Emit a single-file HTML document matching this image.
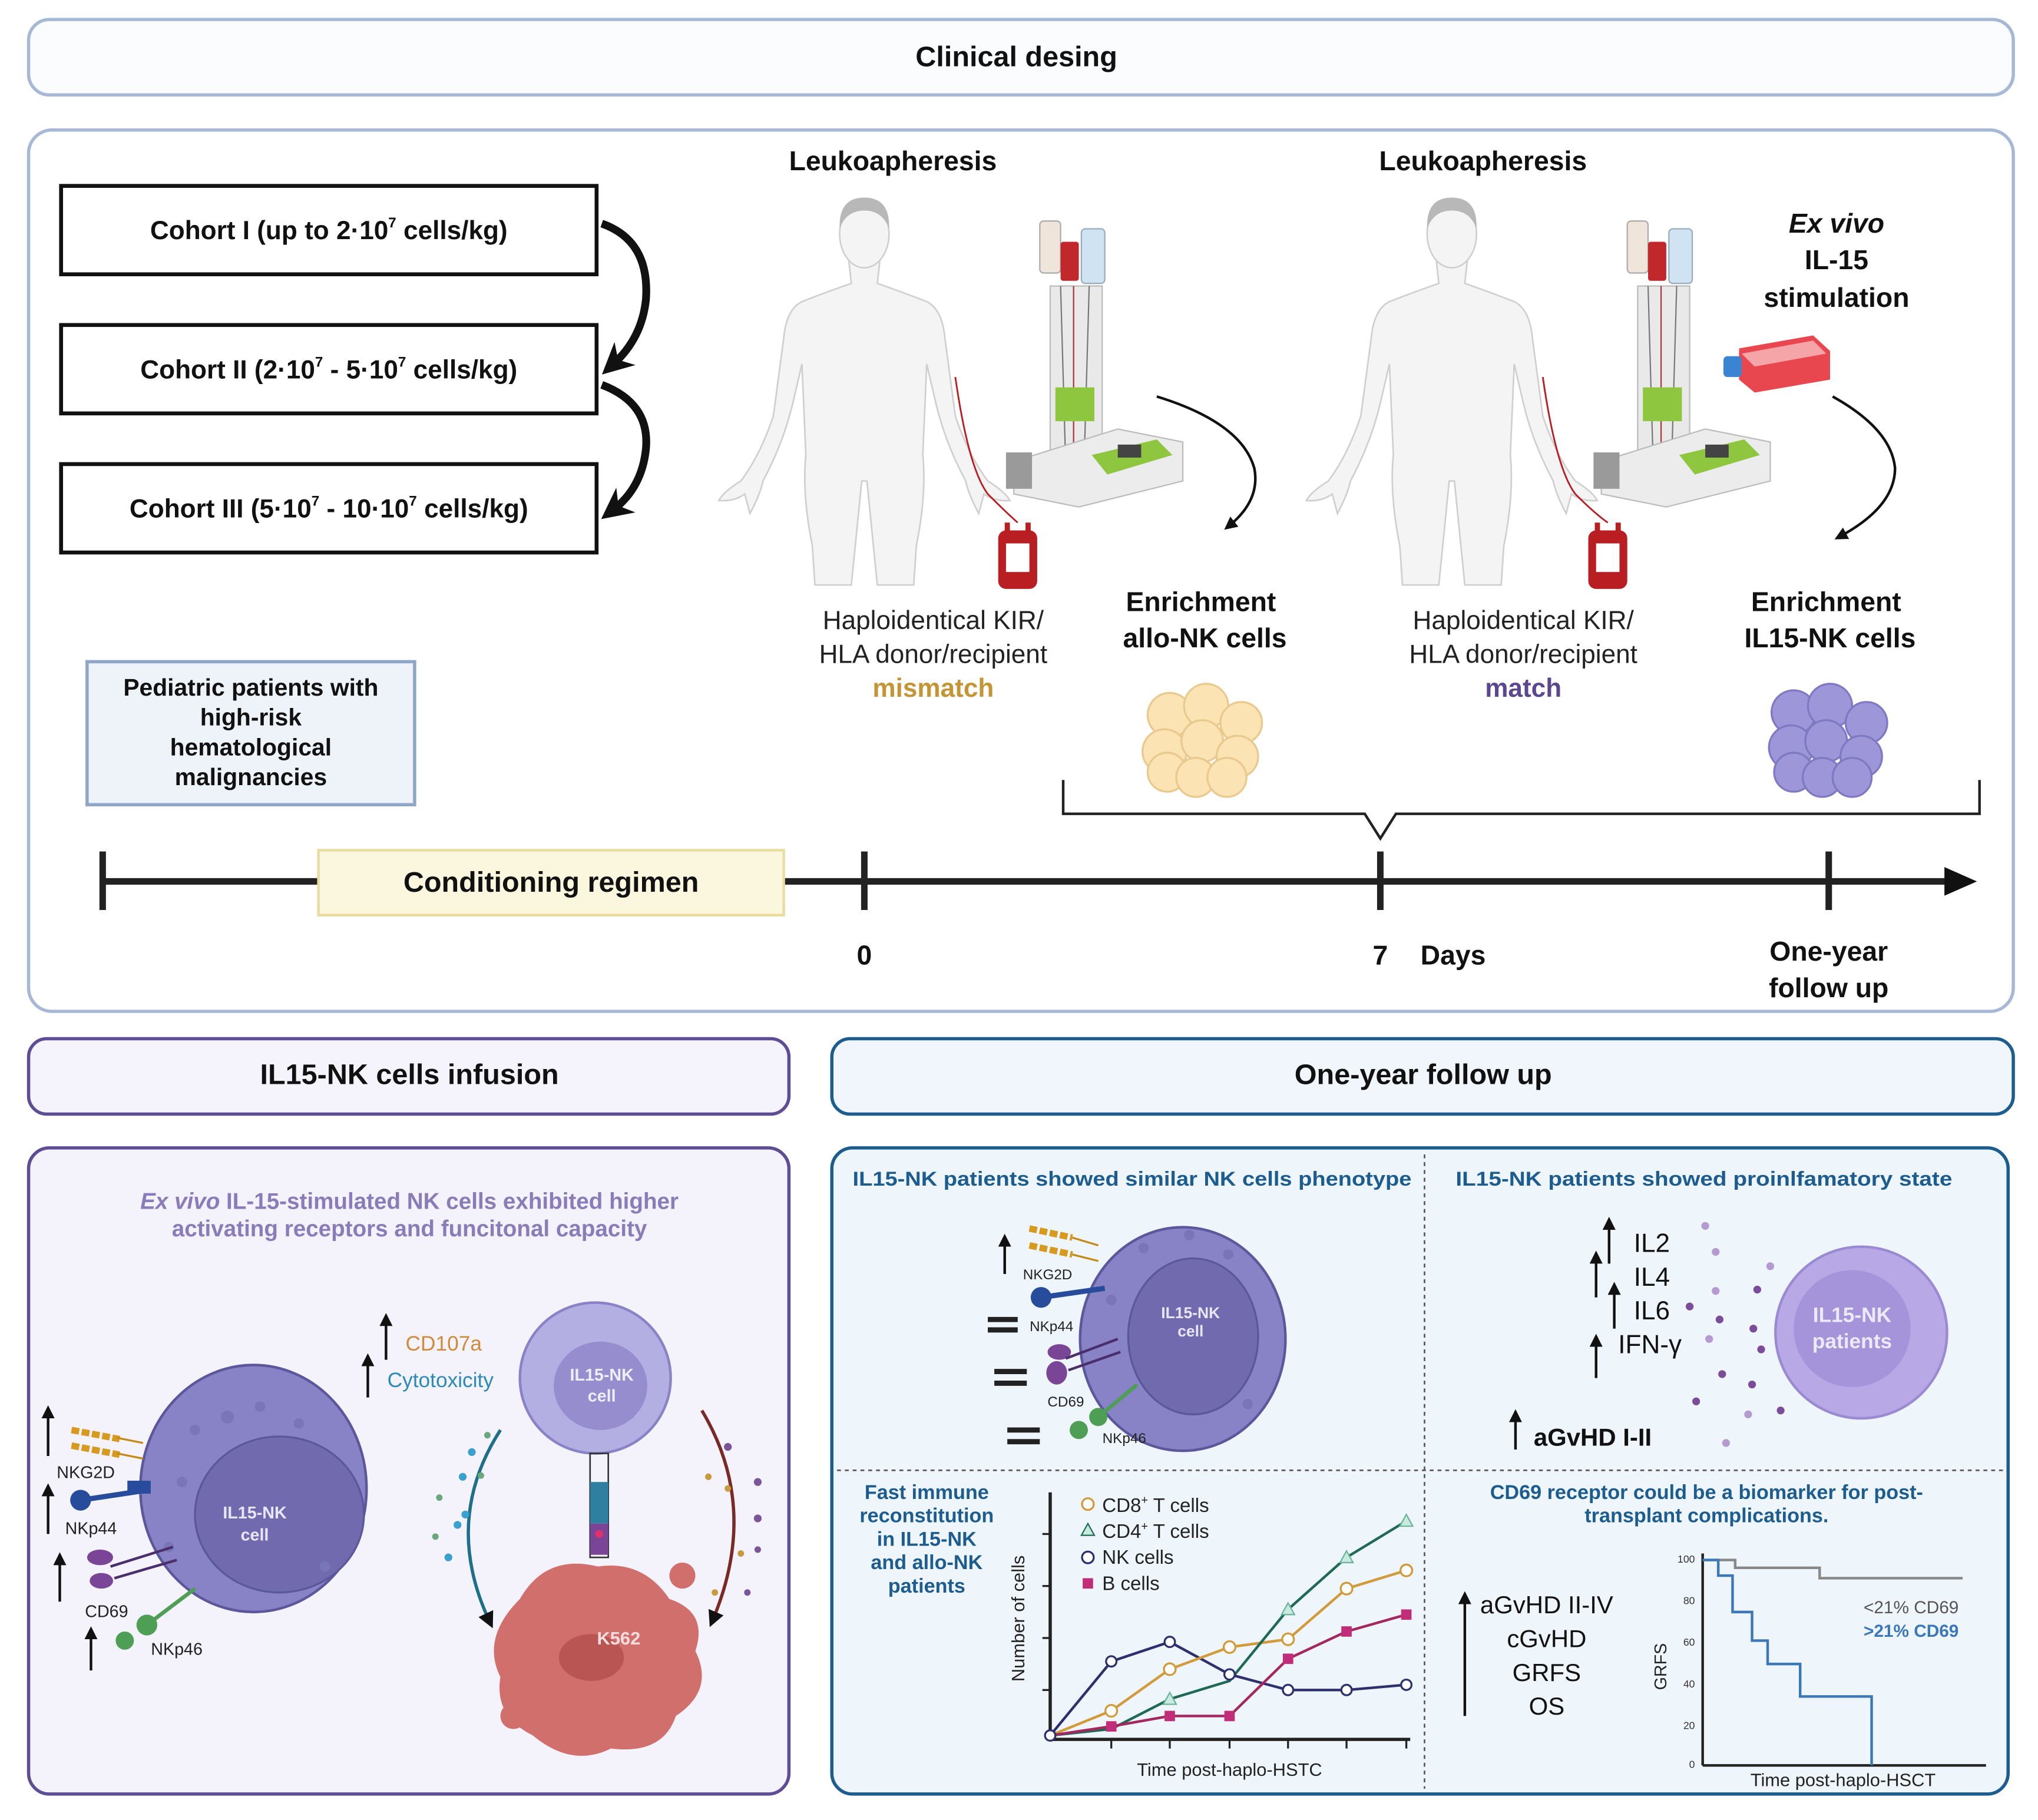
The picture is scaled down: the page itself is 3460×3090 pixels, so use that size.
<!DOCTYPE html>
<html><head><meta charset="utf-8"><style>
html,body{margin:0;padding:0;background:#fff;}
svg{display:block;}
text{font-family:"Liberation Sans",sans-serif;}
</style></head><body>
<svg width="3460" height="3090" viewBox="0 0 1568 1400" preserveAspectRatio="none" xmlns="http://www.w3.org/2000/svg">
<defs>
<marker id="ah" viewBox="0 0 10 10" refX="6" refY="5" markerWidth="5" markerHeight="5" orient="auto"><path d="M0,0 L10,5 L0,10 z" fill="#111"/></marker>
<marker id="ahb" viewBox="0 0 10 10" refX="5" refY="5" markerWidth="4" markerHeight="4" orient="auto"><path d="M0,0 L10,5 L0,10 L3,5 z" fill="#111"/></marker>
<g id="human">
<path d="M-12,20 L-10,38 Q-30,45 -48,52 Q-60,58 -62,80 L-70,140 Q-80,170 -95,190 Q-108,198 -112,205 Q-100,206 -92,200 L-88,215 Q-80,200 -78,190 Q-62,160 -55,130 L-48,100 L-45,170 Q-48,200 -40,240 L-38,270 L-10,270 L-2,190 L2,190 L10,270 L38,270 L40,240 Q48,200 45,170 L48,100 L55,130 Q62,160 78,190 Q80,200 88,215 L92,200 Q100,206 112,205 Q108,198 95,190 Q80,170 70,140 L62,80 Q60,58 48,52 Q30,45 10,38 L12,20 z" fill="#f4f4f4" stroke="#cfcfcf" stroke-width="1.2"/>
<ellipse cx="0" cy="0" rx="19" ry="26" fill="#f4f4f4" stroke="#cfcfcf" stroke-width="1.2"/>
<path d="M-19,-4 Q-20,-28 0,-28 Q20,-28 19,-4 Q14,-18 0,-18 Q-14,-18 -19,-4z" fill="#b8b8b8"/>
</g>
<g id="machine">
<rect x="-30" y="0" width="16" height="40" rx="3" fill="#efe5da" stroke="#aaa"/>
<rect x="-14" y="16" width="14" height="30" rx="2" fill="#c0282c"/>
<rect x="2" y="6" width="18" height="42" rx="3" fill="#cfe3f2" stroke="#9ab"/>
<rect x="-22" y="50" width="40" height="150" fill="#e9e9e9" stroke="#bbb"/>
<line x1="-14" y1="50" x2="-10" y2="190" stroke="#777"/><line x1="-4" y1="50" x2="-4" y2="190" stroke="#a33"/><line x1="8" y1="50" x2="4" y2="190" stroke="#777"/>
<rect x="-18" y="128" width="30" height="26" fill="#8fc640"/>
<path d="M-50,185 L30,160 L80,170 L80,200 L0,220 L-50,210z" fill="#ececec" stroke="#bbb"/>
<path d="M10,180 L60,168 L72,180 L22,195z" fill="#8fc640"/>
<rect x="30" y="172" width="18" height="10" fill="#444"/>
<rect x="-56" y="178" width="20" height="28" fill="#9a9a9a"/>
</g>
<g id="bag">
<rect x="-15" y="0" width="30" height="45" rx="6" fill="#b81e22"/>
<rect x="-9" y="10" width="18" height="22" fill="#fff"/>
<rect x="-10" y="-6" width="4" height="7" fill="#b81e22"/><rect x="6" y="-6" width="4" height="7" fill="#b81e22"/>
</g>
</defs>

<!-- header -->
<rect x="22" y="15" width="1527" height="58" rx="16" fill="#fbfcfe" stroke="#a6b8d6" stroke-width="2.5"/>
<text x="782" y="51" font-size="22" font-weight="bold" text-anchor="middle" fill="#111">Clinical desing</text>

<!-- main box -->
<rect x="22" y="100" width="1527" height="678" rx="18" fill="#fff" stroke="#a6b8d6" stroke-width="2.5"/>

<!-- cohorts -->
<g fill="#fff" stroke="#111" stroke-width="3">
<rect x="47" y="143" width="412" height="68"/>
<rect x="47" y="250" width="412" height="68"/>
<rect x="47" y="357" width="412" height="68"/>
</g>
<g font-size="20" font-weight="bold" fill="#111" text-anchor="middle">
<text x="253" y="184">Cohort I (up to 2·10<tspan font-size="11" dy="-9">7</tspan><tspan dy="9"> cells/kg)</tspan></text>
<text x="253" y="291">Cohort II (2·10<tspan font-size="11" dy="-9">7</tspan><tspan dy="9"> - 5·10</tspan><tspan font-size="11" dy="-9">7</tspan><tspan dy="9"> cells/kg)</tspan></text>
<text x="253" y="398">Cohort III (5·10<tspan font-size="11" dy="-9">7</tspan><tspan dy="9"> - 10·10</tspan><tspan font-size="11" dy="-9">7</tspan><tspan dy="9"> cells/kg)</tspan></text>
</g>
<path d="M463,172 Q500,185 497,230 Q494,260 472,280" fill="none" stroke="#111" stroke-width="6" marker-end="url(#ahb)"/>
<path d="M463,296 Q500,310 497,345 Q494,375 472,392" fill="none" stroke="#111" stroke-width="6" marker-end="url(#ahb)"/>

<!-- pediatric -->
<rect x="67" y="509" width="252" height="110" fill="#eef3f9" stroke="#8fa6c8" stroke-width="2.5"/>
<g font-size="18.5" font-weight="bold" fill="#111" text-anchor="middle">
<text x="193" y="535">Pediatric patients with</text>
<text x="193" y="558">high-risk</text>
<text x="193" y="581">hematological</text>
<text x="193" y="604">malignancies</text>
</g>

<!-- leukoapheresis -->
<g font-size="21" font-weight="bold" fill="#111" text-anchor="middle">
<text x="687" y="131">Leukoapheresis</text>
<text x="1141" y="131">Leukoapheresis</text>
</g>
<use href="#human" x="665" y="180"/>
<use href="#human" x="1117" y="180"/>
<use href="#machine" x="830" y="170"/>
<use href="#machine" x="1282" y="170"/>
<path d="M735,290 Q745,360 760,380 Q775,395 783,402" fill="none" stroke="#b81e22" stroke-width="1.3"/>
<path d="M1187,290 Q1197,360 1212,380 Q1227,395 1237,402" fill="none" stroke="#b81e22" stroke-width="1.3"/>
<use href="#bag" x="783" y="408"/>
<use href="#bag" x="1237" y="408"/>

<g font-size="20" fill="#222" text-anchor="middle">
<text x="718" y="484">Haploidentical KIR/</text>
<text x="718" y="510">HLA donor/recipient</text>
<text x="1172" y="484">Haploidentical KIR/</text>
<text x="1172" y="510">HLA  donor/recipient</text>
</g>
<text x="718" y="536" font-size="20" font-weight="bold" fill="#c39535" text-anchor="middle">mismatch</text>
<text x="1172" y="536" font-size="20" font-weight="bold" fill="#5c468f" text-anchor="middle">match</text>

<g font-size="21" font-weight="bold" fill="#111" text-anchor="middle">
<text x="924" y="470">Enrichment</text>
<text x="927" y="498">allo-NK cells</text>
<text x="1405" y="470">Enrichment</text>
<text x="1408" y="498">IL15-NK cells</text>
<text x="1413" y="179" font-style="italic" font-weight="bold">Ex vivo</text>
<text x="1413" y="207">IL-15</text>
<text x="1413" y="236">stimulation</text>
</g>
<!-- flask -->
<g>
<path d="M1338,268 L1395,258 L1408,270 L1408,292 L1350,302 L1338,292z" fill="#e8474f"/>
<path d="M1340,272 L1395,262 L1405,272 L1350,282z" fill="#f5a5a8"/>
<rect x="1326" y="274" width="14" height="16" rx="3" fill="#3a84d1"/>
</g>
<path d="M890,305 Q955,325 965,360 Q970,385 945,405" fill="none" stroke="#111" stroke-width="2" marker-end="url(#ah)"/>
<path d="M1410,305 Q1455,330 1458,360 Q1458,390 1415,413" fill="none" stroke="#111" stroke-width="2" marker-end="url(#ah)"/>

<!-- cell clusters -->
<g stroke="#e9c98e" stroke-width="1.5" fill="#fbe3b3">
<circle cx="900" cy="550" r="17"/><circle cx="928" cy="543" r="17"/><circle cx="955" cy="556" r="16"/>
<circle cx="896" cy="578" r="17"/><circle cx="925" cy="570" r="16"/><circle cx="952" cy="582" r="16"/>
<circle cx="898" cy="594" r="15"/><circle cx="920" cy="598" r="15"/><circle cx="944" cy="598" r="15"/>
</g>
<g stroke="#7f78c2" stroke-width="1.5" fill="#9d97d9">
<circle cx="1380" cy="548" r="17"/><circle cx="1408" cy="543" r="17"/><circle cx="1436" cy="556" r="16"/>
<circle cx="1378" cy="575" r="17"/><circle cx="1405" cy="570" r="16"/><circle cx="1432" cy="582" r="16"/>
<circle cx="1380" cy="594" r="15"/><circle cx="1402" cy="598" r="15"/><circle cx="1425" cy="598" r="15"/>
</g>

<!-- bracket -->
<path d="M818,600 L818,626 L1050,626 L1062,645 L1074,626 L1523,626 L1523,600" fill="none" stroke="#222" stroke-width="2"/>

<!-- timeline -->
<line x1="79" y1="678" x2="1500" y2="678" stroke="#222" stroke-width="5"/>
<path d="M1496,667 L1521,678 L1496,689z" fill="#111"/>
<g stroke="#222" stroke-width="5">
<line x1="79" y1="655" x2="79" y2="700"/><line x1="665" y1="655" x2="665" y2="700"/>
<line x1="1062" y1="655" x2="1062" y2="700"/><line x1="1407" y1="655" x2="1407" y2="700"/>
</g>
<rect x="245" y="654" width="358" height="50" fill="#fbf7df" stroke="#e8dc9f" stroke-width="2"/>
<text x="424" y="686" font-size="22" font-weight="bold" text-anchor="middle" fill="#111">Conditioning regimen</text>
<g font-size="21" font-weight="bold" fill="#111" text-anchor="middle">
<text x="665" y="742">0</text>
<text x="1062" y="742">7</text>
<text x="1118" y="742">Days</text>
<text x="1407" y="739">One-year</text>
<text x="1407" y="767">follow up</text>
</g>

<!-- bottom headers -->
<rect x="22" y="799" width="585" height="58" rx="14" fill="#f5f3fb" stroke="#5e4c94" stroke-width="2.5"/>
<text x="315" y="834" font-size="22" font-weight="bold" text-anchor="middle" fill="#111">IL15-NK cells infusion</text>
<rect x="640" y="799" width="909" height="58" rx="14" fill="#f0f6fb" stroke="#1d5c8f" stroke-width="2.5"/>
<text x="1095" y="834" font-size="22" font-weight="bold" text-anchor="middle" fill="#111">One-year follow up</text>

<!-- left panel -->
<rect x="22" y="883" width="585" height="497" rx="16" fill="#f4f2fb" stroke="#5e4c94" stroke-width="2.5"/>
<g font-size="17.5" font-weight="bold" fill="#8a7cb8" text-anchor="middle">
<text x="315" y="930"><tspan font-style="italic">Ex vivo</tspan> IL-15-stimulated NK cells exhibited higher</text>
<text x="315" y="951">activating receptors and funcitonal capacity</text>
</g>
<ellipse cx="195" cy="1145" rx="87" ry="95" fill="#8783c6" stroke="#5c579c" stroke-width="2"/>
<ellipse cx="215" cy="1165" rx="65" ry="60" fill="#716aae" stroke="#5c579c" stroke-width="1.5"/>
<g fill="#7a75b8"><circle cx="150" cy="1100" r="4"/><circle cx="175" cy="1090" r="5"/><circle cx="200" cy="1082" r="4"/><circle cx="230" cy="1095" r="4"/><circle cx="140" cy="1140" r="4"/><circle cx="250" cy="1205" r="4"/><circle cx="130" cy="1190" r="4"/></g>
<text x="196" y="1168" font-size="13" font-weight="bold" fill="#e8e6f6" text-anchor="middle">IL15-NK</text>
<text x="196" y="1185" font-size="13" font-weight="bold" fill="#e8e6f6" text-anchor="middle">cell</text>
<g stroke="#d79a1e" stroke-width="5" stroke-dasharray="6 2"><line x1="55" y1="1100" x2="92" y2="1107"/><line x1="55" y1="1112" x2="92" y2="1119"/></g>
<g stroke="#c48a18" stroke-width="1.5"><line x1="90" y1="1106" x2="110" y2="1110"/><line x1="90" y1="1118" x2="110" y2="1122"/></g>
<text x="66" y="1137" font-size="13" fill="#222" text-anchor="middle">NKG2D</text>
<circle cx="62" cy="1154" r="8" fill="#274c9c"/><line x1="62" y1="1154" x2="115" y2="1146" stroke="#274c9c" stroke-width="4"/><rect x="98" y="1139" width="18" height="10" fill="#274c9c"/>
<text x="70" y="1180" font-size="13" fill="#222" text-anchor="middle">NKp44</text>
<ellipse cx="77" cy="1198" rx="10" ry="6" fill="#7a4596"/><ellipse cx="78" cy="1216" rx="9" ry="6" fill="#7a4596"/>
<g stroke="#4a2f6c" stroke-width="2"><line x1="85" y1="1205" x2="133" y2="1190"/><line x1="88" y1="1214" x2="136" y2="1200"/></g>
<text x="82" y="1244" font-size="13" fill="#222" text-anchor="middle">CD69</text>
<circle cx="96" cy="1262" r="7" fill="#4e9f55"/><circle cx="113" cy="1250" r="8" fill="#4e9f55"/><line x1="113" y1="1250" x2="150" y2="1222" stroke="#4e9f55" stroke-width="3"/>
<text x="136" y="1273" font-size="13" fill="#222" text-anchor="middle">NKp46</text>
<g stroke="#111" stroke-width="2" marker-end="url(#ah)"><line x1="37" y1="1120" x2="37" y2="1085"/><line x1="37" y1="1180" x2="37" y2="1145"/><line x1="46" y1="1232" x2="46" y2="1198"/><line x1="70" y1="1285" x2="70" y2="1255"/><line x1="297" y1="1046" x2="297" y2="1014"/><line x1="283" y1="1075" x2="283" y2="1045"/></g>
<text x="312" y="1039" font-size="16" fill="#cf8a3c">CD107a</text>
<text x="298" y="1067" font-size="16" fill="#2b8bb4">Cytotoxicity</text>
<circle cx="458" cy="1060" r="58" fill="#b4afe2" stroke="#8a82c6" stroke-width="2"/>
<ellipse cx="462" cy="1066" rx="36" ry="34" fill="#968dce"/>
<text x="463" y="1062" font-size="13" font-weight="bold" fill="#eeeefa" text-anchor="middle">IL15-NK</text>
<text x="463" y="1078" font-size="13" font-weight="bold" fill="#eeeefa" text-anchor="middle">cell</text>
<rect x="454" y="1118" width="14" height="80" fill="none" stroke="#333" stroke-width="1.2"/>
<rect x="454" y="1140" width="14" height="32" fill="#2f7fa0"/>
<rect x="454" y="1172" width="14" height="24" fill="#7a4596"/>
<circle cx="461" cy="1180" r="3" fill="#e0316a"/>
<path d="M400,1230 Q420,1195 460,1205 Q495,1200 515,1230 Q545,1240 535,1270 Q550,1300 520,1320 Q510,1350 470,1345 Q440,1360 410,1335 Q380,1320 385,1290 Q370,1260 400,1230z" fill="#d06f6b"/>
<circle cx="525" cy="1212" r="10" fill="#d06f6b"/><circle cx="395" cy="1320" r="10" fill="#d06f6b"/><circle cx="480" cy="1218" r="8" fill="#d06f6b"/>
<ellipse cx="455" cy="1275" rx="25" ry="18" fill="#b95552"/>
<text x="476" y="1265" font-size="14" font-weight="bold" fill="#f6dddd" text-anchor="middle">K562</text>
<path d="M385,1100 Q340,1170 377,1248" fill="none" stroke="#1e6f8a" stroke-width="2.5" marker-end="url(#ah)"/>
<path d="M540,1085 Q585,1160 548,1247" fill="none" stroke="#7a2a24" stroke-width="2.5" marker-end="url(#ah)"/>
<g fill="#3aa0cf"><circle cx="363" cy="1117" r="3"/><circle cx="356" cy="1136" r="3"/><circle cx="352" cy="1173" r="3"/><circle cx="345" cy="1198" r="3"/><circle cx="358" cy="1165" r="3"/></g>
<g fill="#6aa87c"><circle cx="375" cy="1104" r="2.5"/><circle cx="338" cy="1152" r="2.5"/><circle cx="335" cy="1182" r="2.5"/><circle cx="370" cy="1135" r="2.5"/></g>
<g fill="#c89a3e"><circle cx="545" cy="1136" r="2.5"/><circle cx="560" cy="1145" r="2.5"/><circle cx="570" cy="1195" r="2.5"/><circle cx="550" cy="1225" r="2.5"/></g>
<g fill="#7a5598"><circle cx="560" cy="1113" r="3"/><circle cx="583" cy="1140" r="3"/><circle cx="583" cy="1168" r="3"/><circle cx="583" cy="1192" r="2.5"/><circle cx="575" cy="1225" r="2.5"/></g>

<!-- right panel -->
<rect x="640" y="883" width="905" height="497" rx="16" fill="#eef5fb" stroke="#1d5c8f" stroke-width="2.5"/>
<line x1="1096" y1="888" x2="1096" y2="1376" stroke="#555" stroke-width="1.2" stroke-dasharray="3 3"/>
<line x1="644" y1="1131" x2="1541" y2="1131" stroke="#555" stroke-width="1.2" stroke-dasharray="3 3"/>
<g font-size="15.5" font-weight="bold" fill="#1d5c8f">
<text x="656" y="912" textLength="430" lengthAdjust="spacingAndGlyphs">IL15-NK patients showed similar NK cells phenotype</text>
<text x="1120" y="912" textLength="382" lengthAdjust="spacingAndGlyphs">IL15-NK patients showed  proinlfamatory state</text>
<text x="1313" y="1153" text-anchor="middle">CD69 receptor could be a biomarker for post-</text>
<text x="1313" y="1171" text-anchor="middle">transplant complications.</text>
<text x="713" y="1153" text-anchor="middle">Fast immune</text>
<text x="713" y="1171" text-anchor="middle">reconstitution</text>
<text x="713" y="1189" text-anchor="middle">in IL15-NK</text>
<text x="713" y="1207" text-anchor="middle">and allo-NK</text>
<text x="713" y="1225" text-anchor="middle">patients</text>
</g>
<!-- phenotype cell -->
<ellipse cx="910" cy="1030" rx="79" ry="86" fill="#8783c6" stroke="#5c579c" stroke-width="2"/>
<ellipse cx="918" cy="1028" rx="50" ry="60" fill="#716aae" stroke="#5c579c" stroke-width="1.5"/>
<g fill="#7a75b8"><circle cx="880" cy="960" r="4"/><circle cx="915" cy="950" r="4"/><circle cx="945" cy="965" r="4"/><circle cx="855" cy="1000" r="4"/><circle cx="960" cy="1080" r="4"/></g>
<text x="916" y="1014" font-size="12" font-weight="bold" fill="#e8e6f6" text-anchor="middle">IL15-NK</text>
<text x="916" y="1028" font-size="12" font-weight="bold" fill="#e8e6f6" text-anchor="middle">cell</text>
<g stroke="#d79a1e" stroke-width="5" stroke-dasharray="6 2"><line x1="792" y1="945" x2="825" y2="952"/><line x1="792" y1="958" x2="825" y2="965"/></g>
<g stroke="#c48a18" stroke-width="1.5"><line x1="825" y1="952" x2="845" y2="958"/><line x1="825" y1="965" x2="845" y2="970"/></g>
<text x="806" y="984" font-size="11" fill="#222" text-anchor="middle">NKG2D</text>
<circle cx="801" cy="998" r="8" fill="#274c9c"/><line x1="801" y1="998" x2="850" y2="991" stroke="#274c9c" stroke-width="4"/>
<text x="809" y="1024" font-size="11" fill="#222" text-anchor="middle">NKp44</text>
<ellipse cx="815" cy="1040" rx="9" ry="6" fill="#7a4596"/><ellipse cx="813" cy="1056" rx="8" ry="9" fill="#7a4596"/>
<g stroke="#4a2f6c" stroke-width="2"><line x1="820" y1="1045" x2="860" y2="1030"/><line x1="822" y1="1054" x2="862" y2="1040"/></g>
<text x="820" y="1082" font-size="11" fill="#222" text-anchor="middle">CD69</text>
<circle cx="830" cy="1100" r="7" fill="#4e9f55"/><circle cx="845" cy="1090" r="7" fill="#4e9f55"/><line x1="845" y1="1090" x2="875" y2="1065" stroke="#4e9f55" stroke-width="3"/>
<text x="865" y="1110" font-size="11" fill="#222" text-anchor="middle">NKp46</text>
<g stroke="#222" stroke-width="4"><line x1="760" y1="1015" x2="783" y2="1015"/><line x1="760" y1="1023" x2="783" y2="1023"/><line x1="765" y1="1055" x2="790" y2="1055"/><line x1="765" y1="1064" x2="790" y2="1064"/><line x1="775" y1="1100" x2="800" y2="1100"/><line x1="775" y1="1109" x2="800" y2="1109"/></g>
<line x1="773" y1="980" x2="773" y2="953" stroke="#111" stroke-width="2" marker-end="url(#ah)"/>
<!-- proinflammatory -->
<circle cx="1432" cy="1025" r="66" fill="#b8a9e6" stroke="#9a8ad3" stroke-width="2"/>
<circle cx="1425" cy="1022" r="45" fill="#a594da"/>
<text x="1425" y="1017" font-size="16" font-weight="bold" fill="#eceaf8" text-anchor="middle">IL15-NK</text>
<text x="1425" y="1037" font-size="16" font-weight="bold" fill="#eceaf8" text-anchor="middle">patients</text>
<g font-size="20" fill="#111"><text x="1257" y="963">IL2</text><text x="1257" y="989">IL4</text><text x="1257" y="1015">IL6</text><text x="1245" y="1041">IFN-γ</text></g>
<text x="1180" y="1112" font-size="19" font-weight="bold" fill="#111">aGvHD I-II</text>
<g stroke="#111" stroke-width="2" marker-end="url(#ah)"><line x1="1238" y1="972" x2="1238" y2="940"/><line x1="1228" y1="998" x2="1228" y2="966"/><line x1="1242" y1="1022" x2="1242" y2="990"/><line x1="1228" y1="1060" x2="1228" y2="1030"/><line x1="1166" y1="1115" x2="1166" y2="1088"/></g>
<g fill="#7a4c99"><circle cx="1300" cy="1005" r="3"/><circle cx="1323" cy="1015" r="3"/><circle cx="1352" cy="992" r="3"/><circle cx="1349" cy="1022" r="3"/><circle cx="1355" cy="1038" r="3"/><circle cx="1325" cy="1057" r="3"/><circle cx="1348" cy="1065" r="3"/><circle cx="1370" cy="1085" r="3"/><circle cx="1305" cy="1078" r="3"/></g>
<g fill="#b49ad0"><circle cx="1312" cy="943" r="3"/><circle cx="1320" cy="963" r="3"/><circle cx="1320" cy="993" r="3"/><circle cx="1315" cy="1030" r="3"/><circle cx="1362" cy="974" r="3"/><circle cx="1345" cy="1088" r="3"/><circle cx="1328" cy="1110" r="3"/></g>
<!-- line chart -->
<line x1="808" y1="1148" x2="808" y2="1339" stroke="#222" stroke-width="2.5"/>
<line x1="806" y1="1338" x2="1085" y2="1338" stroke="#222" stroke-width="2.5"/>
<g stroke="#222" stroke-width="1.5"><line x1="855" y1="1338" x2="855" y2="1345"/><line x1="900" y1="1338" x2="900" y2="1345"/><line x1="946" y1="1338" x2="946" y2="1345"/><line x1="991" y1="1338" x2="991" y2="1345"/><line x1="1036" y1="1338" x2="1036" y2="1345"/><line x1="1082" y1="1338" x2="1082" y2="1345"/>
<line x1="802" y1="1300" x2="808" y2="1300"/><line x1="802" y1="1260" x2="808" y2="1260"/><line x1="802" y1="1220" x2="808" y2="1220"/><line x1="802" y1="1180" x2="808" y2="1180"/></g>
<text x="946" y="1366" font-size="14" fill="#222" text-anchor="middle">Time post-haplo-HSTC</text>
<text transform="translate(788,1245) rotate(-90)" font-size="14" fill="#222" text-anchor="middle">Number of cells</text>
<polyline points="808,1335 855,1278 900,1263 946,1288 991,1300 1036,1300 1082,1296" fill="none" stroke="#2e2f6e" stroke-width="2"/>
<polyline points="808,1335 855,1316 900,1284 946,1267 991,1261 1036,1222 1082,1208" fill="none" stroke="#d19a3a" stroke-width="2"/>
<polyline points="808,1335 855,1330 900,1307 946,1293 991,1238 1036,1198 1082,1170" fill="none" stroke="#1f6a55" stroke-width="2"/>
<polyline points="808,1335 855,1328 900,1320 946,1320 991,1276 1036,1255 1082,1242" fill="none" stroke="#a3285f" stroke-width="2"/>
<g fill="#fff" stroke="#2e2f6e" stroke-width="1.5"><circle cx="855" cy="1278" r="4"/><circle cx="900" cy="1263" r="4"/><circle cx="946" cy="1288" r="4"/><circle cx="991" cy="1300" r="4"/><circle cx="1036" cy="1300" r="4"/><circle cx="1082" cy="1296" r="4"/><circle cx="808" cy="1335" r="4"/></g>
<g fill="#fff" stroke="#d19a3a" stroke-width="1.5"><circle cx="855" cy="1316" r="4.5"/><circle cx="900" cy="1284" r="4.5"/><circle cx="946" cy="1267" r="4.5"/><circle cx="991" cy="1261" r="4.5"/><circle cx="1036" cy="1222" r="4.5"/><circle cx="1082" cy="1208" r="4.5"/></g>
<g fill="#c8eadf" stroke="#6ab39a" stroke-width="1"><path d="M900,1302 l5,9 h-10z"/><path d="M991,1233 l5,9 h-10z"/><path d="M1036,1193 l5,9 h-10z"/><path d="M1082,1165 l5,9 h-10z"/></g>
<g fill="#c22d7a"><rect x="851" y="1324" width="8" height="8"/><rect x="896" y="1316" width="8" height="8"/><rect x="942" y="1316" width="8" height="8"/><rect x="987" y="1272" width="8" height="8"/><rect x="1032" y="1251" width="8" height="8"/><rect x="1078" y="1238" width="8" height="8"/></g>
<g font-size="15" fill="#222"><text x="848" y="1163">CD8<tspan font-size="9" dy="-6">+</tspan><tspan dy="6"> T cells</tspan></text><text x="848" y="1183">CD4<tspan font-size="9" dy="-6">+</tspan><tspan dy="6"> T cells</tspan></text><text x="848" y="1203">NK cells</text><text x="848" y="1223">B cells</text></g>
<circle cx="837" cy="1157" r="4.5" fill="#fff" stroke="#d19a3a" stroke-width="1.5"/>
<path d="M837,1172 l5,9 h-10z" fill="#c8eadf" stroke="#1f6a55"/>
<circle cx="837" cy="1198" r="4.5" fill="#fff" stroke="#2e2f6e" stroke-width="1.5"/>
<rect x="833" y="1214" width="8" height="8" fill="#c22d7a"/>
<!-- KM -->
<g font-size="19" fill="#111" text-anchor="middle"><text x="1190" y="1241">aGvHD II-IV</text><text x="1190" y="1267">cGvHD</text><text x="1190" y="1293">GRFS</text><text x="1190" y="1319">OS</text></g>
<line x1="1127" y1="1320" x2="1127" y2="1228" stroke="#111" stroke-width="2" marker-end="url(#ah)"/>
<line x1="1310" y1="1195" x2="1310" y2="1358" stroke="#222" stroke-width="2"/>
<line x1="1310" y1="1358" x2="1528" y2="1358" stroke="#222" stroke-width="2"/>
<g font-size="8" fill="#333" text-anchor="end"><text x="1304" y="1202">100</text><text x="1304" y="1234">80</text><text x="1304" y="1266">60</text><text x="1304" y="1298">40</text><text x="1304" y="1330">20</text><text x="1304" y="1360">0</text></g>
<text transform="translate(1282,1282) rotate(-90)" font-size="13" fill="#222" text-anchor="middle">GRFS</text>
<text x="1418" y="1374" font-size="14" fill="#222" text-anchor="middle">Time post-haplo-HSCT</text>
<polyline points="1310,1200 1335,1200 1335,1206 1400,1206 1400,1214 1510,1214" fill="none" stroke="#888" stroke-width="2"/>
<polyline points="1310,1200 1322,1200 1322,1212 1333,1212 1333,1240 1348,1240 1348,1262 1360,1262 1360,1280 1385,1280 1385,1305 1440,1305 1440,1358" fill="none" stroke="#3c78b8" stroke-width="2"/>
<text x="1507" y="1241" font-size="13.5" fill="#555" text-anchor="end">&lt;21% CD69</text>
<text x="1507" y="1259" font-size="13.5" font-weight="bold" fill="#3c78b8" text-anchor="end">&gt;21% CD69</text>
</svg>
</body></html>
